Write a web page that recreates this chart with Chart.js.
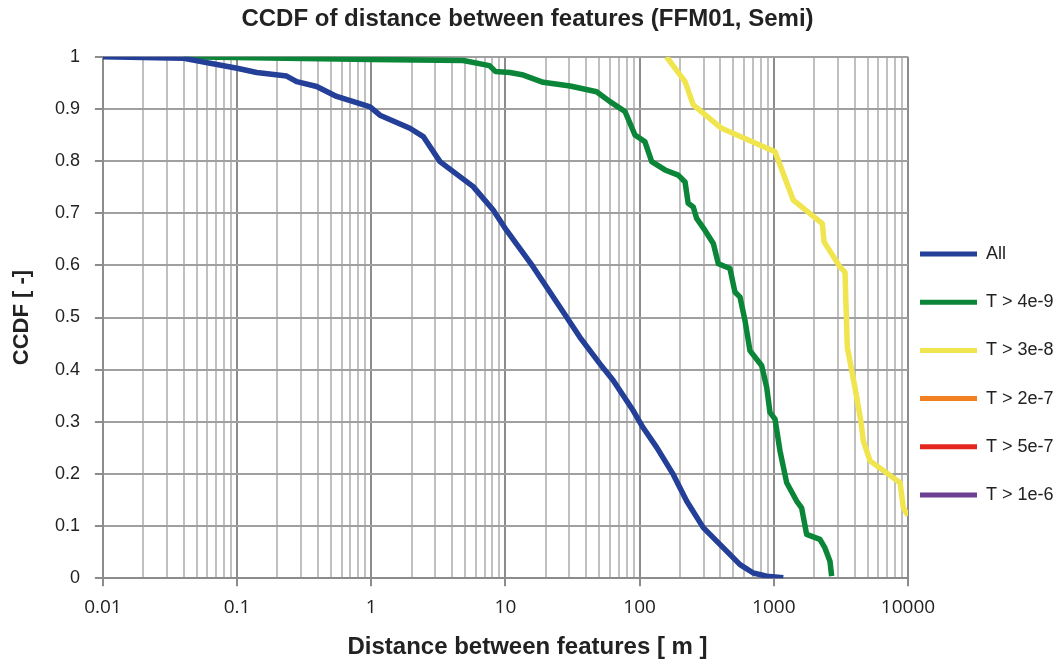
<!DOCTYPE html>
<html>
<head>
<meta charset="utf-8">
<script src="https://cdn.jsdelivr.net/npm/chart.js@4.4.1/dist/chart.umd.min.js"></script>
<style>
body { margin: 0; background: #fff; }
</style>
</head>
<body>
<canvas id="ccdf" width="1055" height="664"></canvas>
<script>
const chartTitle = 'CCDF of distance between features (FFM01, Semi)';
const xTitle = 'Distance between features [ m ]';
const yTitle = 'CCDF [ -]';

const seriesNames = ['All', 'T > 4e-9', 'T > 3e-8', 'T > 2e-7', 'T > 5e-7', 'T > 1e-6'];
const seriesColors = ['#233f97', '#0b8537', '#f0e54e', '#f08020', '#e5261f', '#6c3f92'];

const xTickLabels = ['0.01', '0.1', '1', '10', '100', '1000', '10000'];
const yTickLabels = ['0', '0.1', '0.2', '0.3', '0.4', '0.5', '0.6', '0.7', '0.8', '0.9', '1'];

// All
const allX = [0.01, 0.04, 0.1, 0.14, 0.234, 0.278, 0.392, 0.552, 0.778, 0.98, 1.16, 1.94, 2.44, 3.25, 5.75, 8.1,
    10.2, 16.1, 20.3, 28.6, 35.9, 50.6, 63.6, 89.7, 106, 134, 178, 224, 298, 445, 560, 703, 885, 1176];
const allY = [1, 0.997, 0.978, 0.970, 0.963, 0.9525, 0.943, 0.924, 0.912, 0.904, 0.888, 0.863, 0.847, 0.799, 0.751, 0.706,
    0.667, 0.597, 0.558, 0.5006, 0.462, 0.411, 0.379, 0.321, 0.289, 0.251, 0.199, 0.148, 0.097, 0.052, 0.026, 0.010, 0.004, 0.001];

// T > 4e-9
const t4e9X = [0.04, 1, 4.85, 7.6, 8.4, 10.8, 13.6, 19.1, 30.3, 47.8, 60.1, 77.8, 92.3, 109.6, 123, 154.5, 194, 218, 230, 251,
    266, 307, 354, 386, 471, 513, 560, 610, 664, 811, 885, 936, 1021, 1112, 1247, 1480, 1611, 1757, 2208, 2404, 2620, 2698];
const t4e9Y = [1, 0.995, 0.993, 0.983, 0.972, 0.970, 0.965, 0.951, 0.944, 0.933, 0.914, 0.895, 0.85, 0.837, 0.799, 0.783, 0.773, 0.760, 0.719, 0.712,
    0.690, 0.667, 0.642, 0.603, 0.594, 0.549, 0.539, 0.494, 0.4365, 0.408, 0.366, 0.318, 0.305, 0.244, 0.183, 0.148, 0.135, 0.084, 0.0744, 0.058, 0.0327, 0.004];

// T > 3e-8
const t3e8X = [158.5, 218, 251, 408, 1021, 1397, 2300, 2370, 3114, 3392, 3530, 4023, 4450, 4645, 5212, 8726, 9230, 10000];
const t3e8Y = [1.0, 0.9525, 0.9077, 0.8628, 0.818, 0.725, 0.680, 0.645, 0.597, 0.587, 0.443, 0.366, 0.302, 0.2635, 0.225, 0.183, 0.135, 0.12];

// no points visible for the remaining thresholds
const t2e7X = [], t2e7Y = [];
const t5e7X = [], t5e7Y = [];
const t1e6X = [], t1e6Y = [];

const seriesX = [allX, t4e9X, t3e8X, t2e7X, t5e7X, t1e6X];
const seriesY = [allY, t4e9Y, t3e8Y, t2e7Y, t5e7Y, t1e6Y];

function isDecade(v) {
    const l = Math.log10(v);
    return Math.abs(l - Math.round(l)) < 1e-9;
}

function make_points(xs, ys) {
    return xs.map((x, i) => ({ x: x, y: ys[i] }));
}

const xTitlePlugin = {
    id: 'xTitle',
    afterDraw(chart) {
        const ctx = chart.ctx;
        ctx.save();
        ctx.font = 'bold 24px Arial, "Liberation Sans", sans-serif';
        ctx.fillStyle = '#222';
        ctx.textAlign = 'center';
        ctx.textBaseline = 'middle';
        ctx.fillText(xTitle, chart.width / 2, 647);
        ctx.restore();
    }
};

const datasets = seriesNames.map((name, i) => ({
    label: name,
    data: make_points(seriesX[i], seriesY[i]),
    borderColor: seriesColors[i],
    backgroundColor: seriesColors[i],
    borderWidth: 5.5,
    pointRadius: 0,
    tension: 0,
    borderJoinStyle: 'round'
}));

const config = {
    type: 'line',
    data: { datasets: datasets },
    options: {
        responsive: false,
        animation: false,
        layout: { padding: { left: 0, right: 0, top: 0, bottom: 35 } },
        plugins: {
            title: {
                display: true,
                text: chartTitle,
                color: '#222',
                font: { family: 'Arial, "Liberation Sans", sans-serif', size: 24, weight: 'bold' },
                padding: { top: 5, bottom: 23 }
            },
            legend: {
                position: 'right',
                align: 'start',
                maxWidth: 147,
                title: { display: true, text: ' ', padding: 0, font: { size: 12, lineHeight: '233px' } },
                labels: {
                    boxWidth: 57,
                    boxHeight: 5,
                    padding: 12,
                    color: '#222',
                    font: { family: 'Arial, "Liberation Sans", sans-serif', size: 18, lineHeight: '36.2px' },
                    generateLabels(chart) {
                        return Chart.defaults.plugins.legend.labels.generateLabels(chart).map(item => {
                            item.text = [item.text];
                            item.lineWidth = 0;
                            return item;
                        });
                    }
                }
            },
            tooltip: { enabled: false }
        },
        scales: {
            x: {
                type: 'logarithmic',
                min: 0.01,
                max: 10000,
                afterBuildTicks(scale) {
                    const ticks = [];
                    for (let e = -2; e <= 4; e++) {
                        for (let m = 1; m <= 9; m++) {
                            const v = Number((m * Math.pow(10, e)).toPrecision(6));
                            if (v > 10000) break;
                            ticks.push({ value: v });
                        }
                    }
                    scale.ticks = ticks;
                },
                grid: {
                    color: ctx => (ctx.tick && isDecade(ctx.tick.value)) ? '#8c8c8c' : '#c0c0c0',
                    tickColor: ctx => (ctx.tick && isDecade(ctx.tick.value)) ? '#8c8c8c' : 'rgba(0,0,0,0)',
                    lineWidth: 2,
                    tickLength: 8
                },
                border: { color: '#8c8c8c', width: 2 },
                ticks: {
                    autoSkip: false,
                    maxRotation: 0,
                    padding: 10,
                    color: '#222',
                    font: { family: '"Open Sans", sans-serif', size: 19 },
                    callback: value => isDecade(value) ? xTickLabels[Math.round(Math.log10(value)) + 2] : ''
                }
            },
            y: {
                min: 0,
                max: 1,
                grid: { color: '#a0a0a0', lineWidth: 2, tickLength: 8, tickColor: '#8c8c8c' },
                border: { color: '#8c8c8c', width: 2 },
                ticks: {
                    stepSize: 0.1,
                    padding: 15,
                    color: '#222',
                    font: { family: 'Arial, "Liberation Sans", sans-serif', size: 18 },
                    callback: value => yTickLabels[Math.round(value * 10)]
                },
                title: {
                    display: true,
                    text: yTitle,
                    color: '#222',
                    font: { family: 'Arial, "Liberation Sans", sans-serif', size: 22, weight: 'bold' },
                    padding: { top: 8.5, bottom: 5 }
                }
            }
        }
    },
    plugins: [xTitlePlugin]
};

const myChart = new Chart(document.getElementById('ccdf').getContext('2d'), config);
</script>
</body>
</html>
